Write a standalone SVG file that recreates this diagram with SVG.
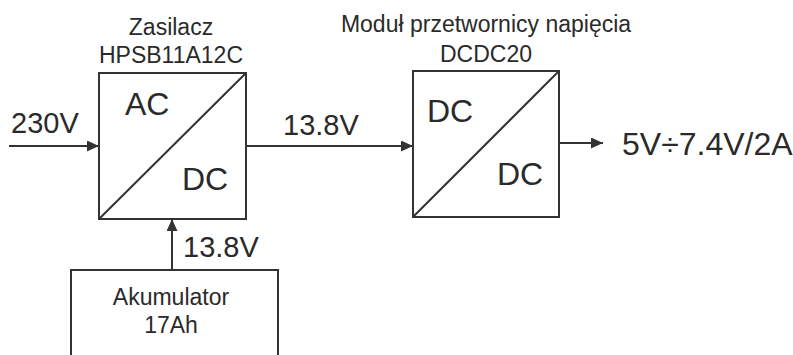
<svg xmlns="http://www.w3.org/2000/svg" width="793" height="355" viewBox="0 0 793 355">
<style>
.box{fill:#fff;stroke:#333;stroke-width:2}
.ln{fill:none;stroke:#333;stroke-width:2}
text{font-family:"Liberation Sans",Arial,sans-serif;fill:#2a2a2a}
.t{font-size:23px;text-anchor:middle}
.v{font-size:29px}
.b{font-size:32px}
</style>
<defs>
<marker id="ah" viewBox="0 0 12 11" refX="12" refY="5.5" markerWidth="12" markerHeight="11" markerUnits="userSpaceOnUse" orient="auto">
<path d="M0,0 L12,5.5 L0,11 Z" fill="#333"/>
</marker>
</defs>
<rect width="793" height="355" fill="#fff"/>
<g id="connectors">
<line class="ln" x1="9" y1="146" x2="99" y2="146" marker-end="url(#ah)"/>
<line class="ln" x1="246" y1="146" x2="413" y2="146" marker-end="url(#ah)"/>
<line class="ln" x1="559" y1="143" x2="603" y2="143" marker-end="url(#ah)"/>
<line class="ln" x1="172" y1="270" x2="172" y2="219" marker-end="url(#ah)"/>
<text class="v" x="11" y="133">230V</text>
<text class="v" x="283" y="135">13.8V</text>
<text class="v" x="183" y="257">13.8V</text>
<text class="b" x="622" y="155">5V÷7.4V/2A</text>
</g>
<g id="zasilacz">
<rect class="box" x="99" y="73" width="147" height="146"/>
<line class="ln" x1="99" y1="219" x2="246" y2="73"/>
<text class="b" x="125" y="115">AC</text>
<text class="b" x="182" y="190">DC</text>
<text class="t" x="171" y="35">Zasilacz</text>
<text class="t" x="171" y="63">HPSB11A12C</text>
</g>
<g id="przetwornica">
<rect class="box" x="413" y="71" width="146" height="146"/>
<line class="ln" x1="413" y1="217" x2="559" y2="71"/>
<text class="b" x="427" y="122">DC</text>
<text class="b" x="497" y="185">DC</text>
<text class="t" x="486" y="32">Moduł przetwornicy napięcia</text>
<text class="t" x="486" y="62">DCDC20</text>
</g>
<g id="akumulator">
<path class="ln" d="M71,356 L71,270 L278,270 L278,356"/>
<text class="t" x="171" y="305">Akumulator</text>
<text class="t" x="171" y="333">17Ah</text>
</g>
</svg>
